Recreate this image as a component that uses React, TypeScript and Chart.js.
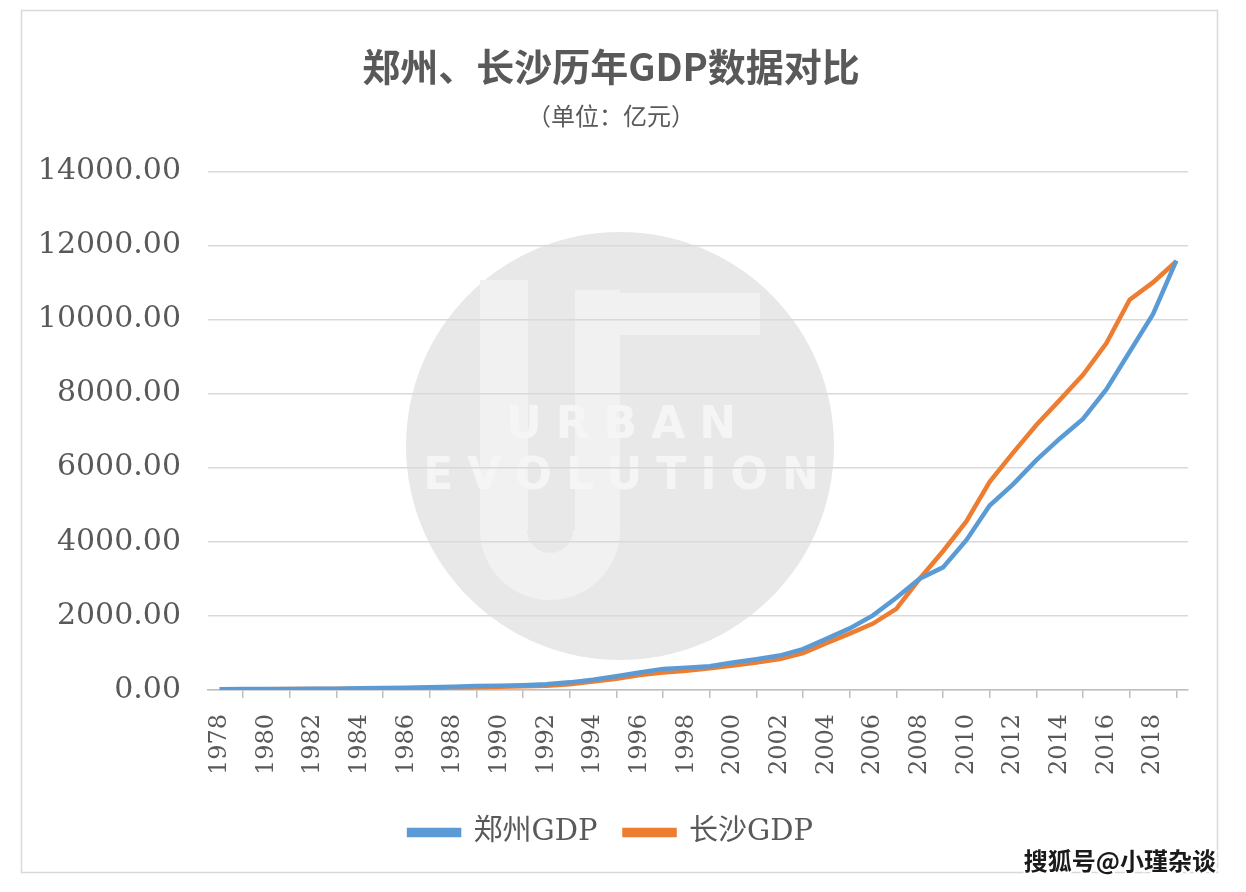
import React, { useEffect, useRef } from "react";
import { Chart, registerables } from "chart.js";

Chart.register(...registerables);

const years: string[] = [
  "1978","1979","1980","1981","1982","1983","1984","1985","1986","1987",
  "1988","1989","1990","1991","1992","1993","1994","1995","1996","1997",
  "1998","1999","2000","2001","2002","2003","2004","2005","2006","2007",
  "2008","2009","2010","2011","2012","2013","2014","2015","2016","2017",
  "2018","2019",
];

const zhengzhouGDP: number[] = [
  20.3, 22, 25, 27.5, 30, 35, 42, 53, 60, 70,
  89, 103, 116, 128, 151, 204, 275, 371, 470, 568,
  602, 640, 738, 828, 927, 1102, 1377, 1661, 2013, 2487,
  3004, 3309, 4041, 4980, 5550, 6202, 6783, 7315, 8114, 9130,
  10143, 11590,
];

const changshaGDP: number[] = [
  17, 19, 20, 22, 24, 27, 32, 38, 44, 52,
  66, 75, 86, 98, 115, 155, 230, 304, 400, 467,
  520, 585, 662, 743, 834, 993, 1264, 1520, 1791, 2190,
  3001, 3745, 4547, 5619, 6400, 7153, 7825, 8510, 9357, 10536,
  11003, 11574,
];

const seriesNames: string[] = ["郑州GDP", "长沙GDP"];
const titleText = "郑州、长沙历年GDP数据对比";
const subtitleText = "（单位：亿元）";
const watermarkText = "搜狐号@小瑾杂谈";

const W = 1246;
const H = 892;
const TEXT = "#595959";
const SERIF = "'DejaVu Serif', 'Noto Sans CJK SC', serif";
const SANS = "'Noto Sans CJK SC', 'Noto Sans', sans-serif";

const decorPlugin = {
  id: "decor",
  beforeDraw(chart: any) {
    const ctx = chart.ctx;
    ctx.save();
    ctx.fillStyle = "#ffffff";
    ctx.fillRect(0, 0, chart.width, chart.height);
    // frame
    ctx.strokeStyle = "#d9d9d9";
    ctx.lineWidth = 1.5;
    ctx.strokeRect(21.5, 10.5, 1196, 862);
    // watermark circle
    ctx.fillStyle = "#e8e8e8";
    ctx.beginPath();
    ctx.arc(620, 446, 214, 0, Math.PI * 2);
    ctx.fill();
    // rough "UE" logo shapes
    ctx.fillStyle = "#f1f1f1";
    ctx.fillRect(480, 280, 48, 250);
    ctx.fillRect(575, 290, 45, 240);
    ctx.beginPath();
    ctx.arc(550, 530, 70, 0, Math.PI);
    ctx.lineTo(527, 530);
    ctx.arc(550, 530, 23, Math.PI, 0, true);
    ctx.closePath();
    ctx.fill();
    ctx.fillRect(620, 293, 140, 42);
    ctx.fillStyle = "#f5f5f5";
    ctx.font = "bold 44px 'DejaVu Sans', sans-serif";
    ctx.textAlign = "center";
    ctx.textBaseline = "middle";
    (ctx as any).letterSpacing = "14px";
    ctx.fillText("URBAN", 628, 427);
    ctx.fillText("EVOLUTION", 628, 478);
    ctx.restore();
  },
  afterDraw(chart: any) {
    const ctx = chart.ctx;
    ctx.save();
    ctx.font = "bold 24px 'Noto Sans CJK SC', sans-serif";
    ctx.textAlign = "right";
    ctx.textBaseline = "middle";
    ctx.lineWidth = 4;
    ctx.strokeStyle = "#ffffff";
    ctx.strokeText(watermarkText, 1216, 861);
    ctx.fillStyle = "#1a1a1a";
    ctx.fillText(watermarkText, 1216, 861);
    ctx.restore();
  },
};

export default function App() {
  const ref = useRef<HTMLCanvasElement | null>(null);

  useEffect(() => {
    if (!ref.current) return;
    const chart = new Chart(ref.current, {
      type: "line",
      data: {
        labels: years,
        datasets: [
          {
            label: seriesNames[0],
            data: zhengzhouGDP,
            borderColor: "#5b9bd5",
            backgroundColor: "#5b9bd5",
            borderWidth: 4.5,
            pointRadius: 0,
            tension: 0,
          },
          {
            label: seriesNames[1],
            data: changshaGDP,
            borderColor: "#ed7d31",
            backgroundColor: "#ed7d31",
            borderWidth: 4.5,
            pointRadius: 0,
            tension: 0,
          },
        ],
      },
      options: {
        responsive: false,
        animation: false,
        layout: { padding: { left: 34, right: 58, top: 0, bottom: 35 } },
        plugins: {
          title: {
            display: true,
            text: titleText,
            color: TEXT,
            font: { family: SANS, size: 38, weight: "bold" },
            padding: { top: 44, bottom: 12 },
          },
          subtitle: {
            display: true,
            text: subtitleText,
            color: TEXT,
            font: { family: SANS, size: 24 },
            padding: { top: 0, bottom: 41 },
          },
          legend: {
            position: "bottom",
            labels: {
              color: TEXT,
              font: { family: SERIF, size: 29 },
              boxWidth: 50,
              boxHeight: 5,
              padding: 27,
            },
          },
          tooltip: { enabled: false },
        },
        scales: {
          x: {
            offset: true,
            grid: {
              display: true,
              offset: true,
              drawOnChartArea: false,
              drawTicks: true,
              tickLength: 8,
              color: "#bfbfbf",
              lineWidth: 1.5,
            },
            border: { display: true, color: "#bfbfbf", width: 1.5 },
            ticks: {
              autoSkip: false,
              maxRotation: 90,
              minRotation: 90,
              padding: 16,
              color: TEXT,
              font: { family: SERIF, size: 24 },
              callback: (_v: any, i: number) => (i % 2 === 0 ? years[i] : null),
            },
          },
          y: {
            min: 0,
            max: 14000,
            afterFit: (scale: any) => {
              scale.width = 174;
            },
            grid: { color: "#d9d9d9", lineWidth: 1.5, drawTicks: false },
            border: { display: false },
            ticks: {
              stepSize: 2000,
              padding: 27,
              color: TEXT,
              font: { family: SERIF, size: 30 },
              callback: (v: any) => Number(v).toFixed(2),
            },
          },
        },
      },
      plugins: [decorPlugin],
    });
    return () => chart.destroy();
  }, []);

  return (
    <div style={{ position: "absolute", left: 0, top: 0, width: W, height: H }}>
      <canvas ref={ref} width={W} height={H} style={{ width: W, height: H, display: "block" }} />
    </div>
  );
}
